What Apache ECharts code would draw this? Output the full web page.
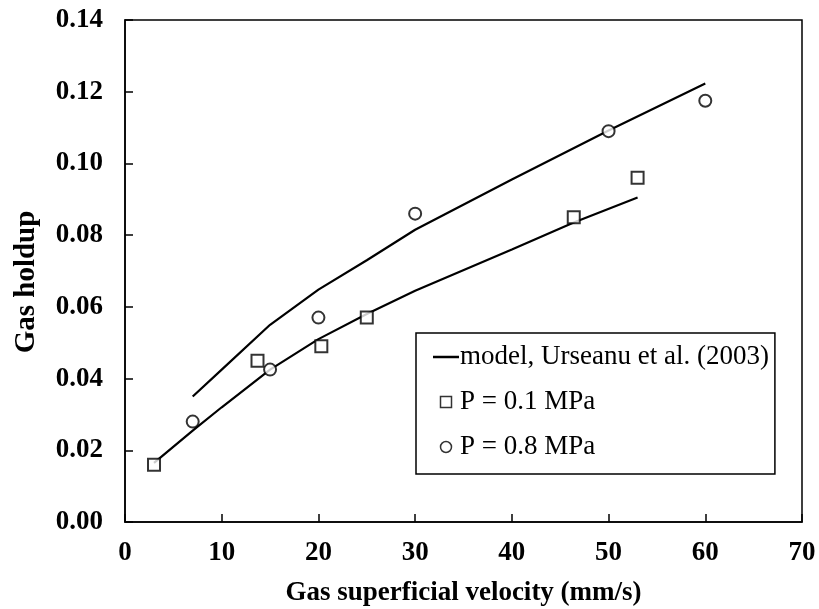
<!DOCTYPE html>
<html>
<head>
<meta charset="utf-8">
<script src="https://cdn.jsdelivr.net/npm/echarts@6/dist/echarts.min.js"></script>
<style>html,body{margin:0;padding:0;background:#fff}#c{width:819px;height:609px}</style>
</head>
<body>
<div id="c"></div>
<script>
// Data
var vel01 = [3, 13.7, 20.3, 25, 46.4, 53];
var holdup01 = [0.016, 0.045, 0.049, 0.057, 0.085, 0.096];
var vel08 = [7, 15, 20, 30, 50, 60];
var holdup08 = [0.028, 0.0425, 0.057, 0.086, 0.109, 0.1175];
var modelLowV = [3, 7, 10, 15, 20, 25, 30, 40, 46.4, 53];
var modelLowH = [0.0165, 0.0255, 0.032, 0.0425, 0.051, 0.058, 0.0645, 0.076, 0.0835, 0.0905];
var modelHighV = [7, 10, 15, 20, 25, 30, 40, 50, 60];
var modelHighH = [0.035, 0.0425, 0.055, 0.0648, 0.073, 0.0815, 0.0955, 0.1092, 0.1223];
var modelName = 'model, Urseanu et al. (2003)';
var name01 = 'P = 0.1 MPa';
var name08 = 'P = 0.8 MPa';

function pairs(xs, ys){ return xs.map(function(x,i){ return [x, ys[i]]; }); }

var chart = echarts.init(document.getElementById('c'));
var serif = 'Liberation Serif, Times New Roman, serif';
chart.setOption({
  animation: false,
  backgroundColor: '#fff',
  grid: { left: 125, top: 20, right: 17, bottom: 87, show: true, borderColor: '#000', borderWidth: 1.5,
          containLabel: false, outerBoundsMode: 'none' },
  xAxis: {
    type: 'value', min: 0, max: 70, interval: 10,
    name: 'Gas superficial velocity (mm/s)', nameLocation: 'middle', nameGap: 58,
    nameTextStyle: { fontFamily: serif, fontWeight: 'bold', fontSize: 27, color: '#000' },
    axisLine: { show: true, lineStyle: { color: '#000', width: 1.5 } },
    axisTick: { show: true, inside: true, length: 8, lineStyle: { color: '#000', width: 1.5 } },
    axisLabel: { fontFamily: serif, fontWeight: 'bold', fontSize: 27, color: '#000', margin: 18 },
    splitLine: { show: false }
  },
  yAxis: {
    type: 'value', min: 0, max: 0.14, interval: 0.02,
    name: 'Gas holdup', nameLocation: 'middle', nameGap: 84, nameRotate: 90,
    nameTextStyle: { fontFamily: serif, fontWeight: 'bold', fontSize: 29, color: '#000', padding: [0, 22, 0, 0] },
    axisLine: { show: true, lineStyle: { color: '#000', width: 1.5 } },
    axisTick: { show: true, inside: true, length: 8, lineStyle: { color: '#000', width: 1.5 } },
    axisLabel: { fontFamily: serif, fontWeight: 'bold', fontSize: 27, color: '#000', margin: 22,
      formatter: function(v){ return v.toFixed(2); } },
    splitLine: { show: false }
  },
  legend: {
    orient: 'vertical', left: 416, top: 333,
    padding: [9, 6, 12, 17],
    borderColor: '#000', borderWidth: 1.5, backgroundColor: '#fff',
    itemWidth: 26, itemHeight: 11, itemGap: 15,
    textStyle: { fontFamily: serif, fontSize: 27, color: '#000', lineHeight: 30, padding: [0,0,0,-4] },
    data: [
      { name: modelName, icon: 'path://M0,0 L26,0 L26,2.5 L0,2.5 Z', itemStyle: { color: '#000', borderWidth: 0 } },
      { name: name01, icon: 'path://M0,0 L10,0 L10,10 L0,10 Z', itemStyle: { color: '#fff', borderColor: '#000', borderWidth: 1.5 } },
      { name: name08, icon: 'circle', itemStyle: { color: '#fff', borderColor: '#000', borderWidth: 1.5 } }
    ]
  },
  series: [
    { name: modelName, type: 'line', data: pairs(modelLowV, modelLowH), showSymbol: false, symbol: 'none',
      lineStyle: { color: '#000', width: 2.2 }, itemStyle: { color: '#000' }, z: 2 },
    { name: modelName, type: 'line', data: pairs(modelHighV, modelHighH), showSymbol: false, symbol: 'none',
      lineStyle: { color: '#000', width: 2.2 }, itemStyle: { color: '#000' }, z: 2 },
    { name: name01, type: 'scatter', data: pairs(vel01, holdup01), symbol: 'rect', symbolSize: 12,
      itemStyle: { color: '#fff', borderColor: '#000', borderWidth: 2 }, z: 3 },
    { name: name08, type: 'scatter', data: pairs(vel08, holdup08), symbol: 'circle', symbolSize: 12,
      itemStyle: { color: '#fff', borderColor: '#000', borderWidth: 2 }, z: 3 }
  ]
});
</script>
</body>
</html>
